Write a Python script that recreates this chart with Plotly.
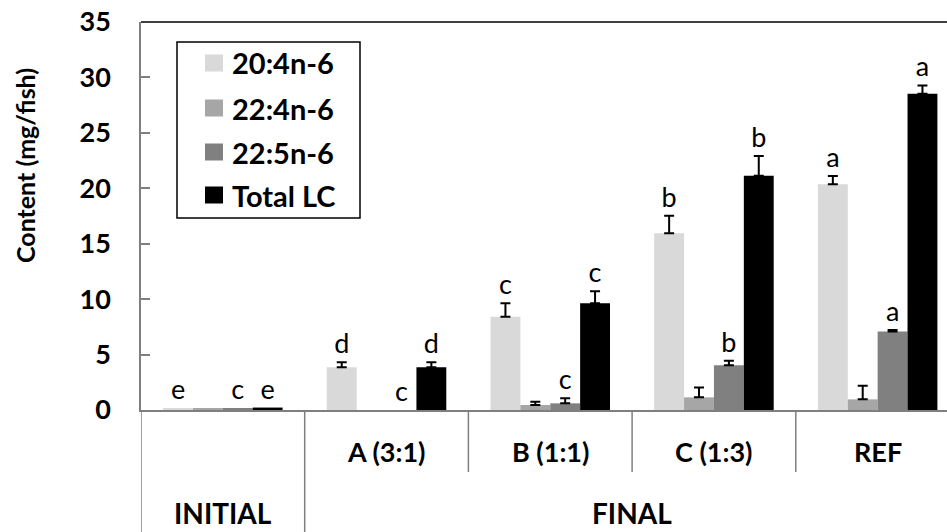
import plotly.graph_objects as go

# ---------------- data ----------------
groups = ["INITIAL", "A (3:1)", "B (1:1)", "C (1:3)", "REF"]
final_groups = ["A (3:1)", "B (1:1)", "C (1:3)", "REF"]
series_names = ["20:4n-6", "22:4n-6", "22:5n-6", "Total LC"]

v_204 = [0.15, 3.85, 8.42, 15.94, 20.36]
v_224 = [0.12, 0.0, 0.45, 1.14, 0.96]
v_225 = [0.15, 0.0, 0.60, 4.03, 7.07]
v_tot = [0.22, 3.85, 9.62, 21.14, 28.53]

e_204 = [None, 0.45, 1.20, 1.59, 0.75]
e_224 = [None, None, 0.30, 0.90, 1.23]
e_225 = [None, None, 0.45, 0.42, 0.15]
e_tot = [None, 0.45, 1.10, 1.78, 0.75]

l_204 = ["e", "d", "c", "b", "a"]
l_224 = ["", "", "", "", ""]
l_225 = ["c", "c", "c", "b", "a"]
l_tot = ["e", "d", "c", "b", "a"]

y_ticks = [0, 5, 10, 15, 20, 25, 30, 35]

colors = ["#d9d9d9", "#a6a6a6", "#808080", "#000000"]
values = [v_204, v_224, v_225, v_tot]
errors = [e_204, e_224, e_225, e_tot]
letters = [l_204, l_224, l_225, l_tot]

# ---------------- geometry ----------------
W, H = 947, 532
ML, MR, MT, MB = 141, 0, 22, 122
PW, PH = W - ML - MR, H - MT - MB
GROUP_PX = 163.7


def px_x(px):
    return (px - ML) / PW


def px_y(py):
    return (H - MB - py) / PH


xs = list(range(len(groups)))
x_max = -0.5 + PW / GROUP_PX
FONT = "Lato"

fig = go.Figure()
# visible bars
for i, name in enumerate(series_names):
    fig.add_trace(go.Bar(
        x=xs, y=values[i], name=name, marker=dict(color=colors[i], line=dict(width=0)),
        offsetgroup=str(i), alignmentgroup="a", showlegend=False,
    ))
# error bars (only where an error exists), on transparent bars in the same slot
for i, name in enumerate(series_names):
    idx = [k for k, e in enumerate(errors[i]) if e is not None]
    fig.add_trace(go.Bar(
        x=[xs[k] for k in idx], y=[values[i][k] for k in idx],
        marker=dict(color="rgba(0,0,0,0)", line=dict(width=0)),
        offsetgroup=str(i), alignmentgroup="a", showlegend=False, hoverinfo="skip",
        error_y=dict(type="data", symmetric=False, array=[errors[i][k] for k in idx],
                     arrayminus=[0] * len(idx), color="black", thickness=2, width=5),
    ))
# significance letters
for i, name in enumerate(series_names):
    tops = [v + (e or 0) for v, e in zip(values[i], errors[i])]
    fig.add_trace(go.Bar(
        x=xs, y=tops, marker=dict(color="rgba(0,0,0,0)", line=dict(width=0)),
        offsetgroup=str(i), alignmentgroup="a", showlegend=False, hoverinfo="skip",
        text=letters[i], textposition="outside", constraintext="none", cliponaxis=False,
        textfont=dict(family=FONT, size=27, color="black"),
    ))

fig.update_layout(
    width=W, height=H, margin=dict(l=ML, r=MR, t=MT, b=MB, pad=0),
    paper_bgcolor="white", plot_bgcolor="white",
    barmode="group", bargap=0.27, bargroupgap=0,
    showlegend=False,
    xaxis=dict(range=[-0.5, x_max], showticklabels=False, ticks="", showgrid=False,
               zeroline=False, showline=True, linecolor="#7f7f7f", linewidth=1.5),
    yaxis=dict(range=[0, 35], tickvals=y_ticks, ticks="inside", ticklen=9,
               tickcolor="#7f7f7f", tickwidth=1.5, showgrid=False, zeroline=False,
               showline=True, linecolor="#7f7f7f", linewidth=1.5,
               ticklabelstandoff=23,
               tickfont=dict(family=FONT, size=27, color="black", weight="bold")),
)

shapes = []
# top border
shapes.append(dict(type="line", xref="paper", yref="paper", x0=0, x1=1, y0=1, y1=1,
                   line=dict(color="black", width=1.5)))
# table lines
bottom = px_y(H)
row_split = px_y(472)
shapes.append(dict(type="line", xref="x", yref="paper", x0=-0.5, x1=-0.5, y0=0, y1=bottom,
                   line=dict(color="#7f7f7f", width=1.5)))
for k in range(len(groups) - 1):
    xb = xs[k] + 0.5
    y_end = bottom if k == 0 else row_split
    shapes.append(dict(type="line", xref="x", yref="paper", x0=xb, x1=xb, y0=0, y1=y_end,
                       line=dict(color="#7f7f7f", width=1.5)))

annotations = []
for g in final_groups:
    annotations.append(dict(x=groups.index(g), y=px_y(451), xref="x", yref="paper",
                            text=g, showarrow=False, xanchor="center", yanchor="middle",
                            font=dict(family=FONT, size=27, color="black", weight="bold")))
annotations.append(dict(x=0, y=px_y(513), xref="x", yref="paper", text="INITIAL",
                        showarrow=False, xanchor="center", yanchor="middle",
                        font=dict(family=FONT, size=28, color="black", weight="bold")))
fin_x = sum(groups.index(g) for g in final_groups) / len(final_groups)
annotations.append(dict(x=fin_x, y=px_y(513), xref="x", yref="paper", text="FINAL",
                        showarrow=False, xanchor="center", yanchor="middle",
                        font=dict(family=FONT, size=28, color="black", weight="bold")))
# y title
annotations.append(dict(x=px_x(25), y=px_y(166), xref="paper", yref="paper",
                        text="Content (mg/fish)", textangle=-90, showarrow=False,
                        xanchor="center", yanchor="middle",
                        font=dict(family=FONT, size=25, color="black", weight="bold")))

# legend (box, swatches, labels)
shapes.append(dict(type="rect", xref="paper", yref="paper", x0=px_x(177), x1=px_x(360),
                   y0=px_y(218), y1=px_y(42), line=dict(color="black", width=1.5),
                   fillcolor="white", layer="below"))
row_centers = [63, 108, 152, 195]
for i, name in enumerate(series_names):
    cy = row_centers[i]
    shapes.append(dict(type="rect", xref="paper", yref="paper", x0=px_x(205), x1=px_x(223),
                       y0=px_y(cy + 8.5), y1=px_y(cy - 8.5), line=dict(width=0),
                       fillcolor=colors[i]))
    annotations.append(dict(x=px_x(230), y=px_y(cy), xref="paper", yref="paper",
                            text=name, showarrow=False, xanchor="left", yanchor="middle",
                            font=dict(family=FONT, size=29, color="black", weight="bold")))

fig.update_layout(shapes=shapes, annotations=annotations)
fig.write_html("out.html")
